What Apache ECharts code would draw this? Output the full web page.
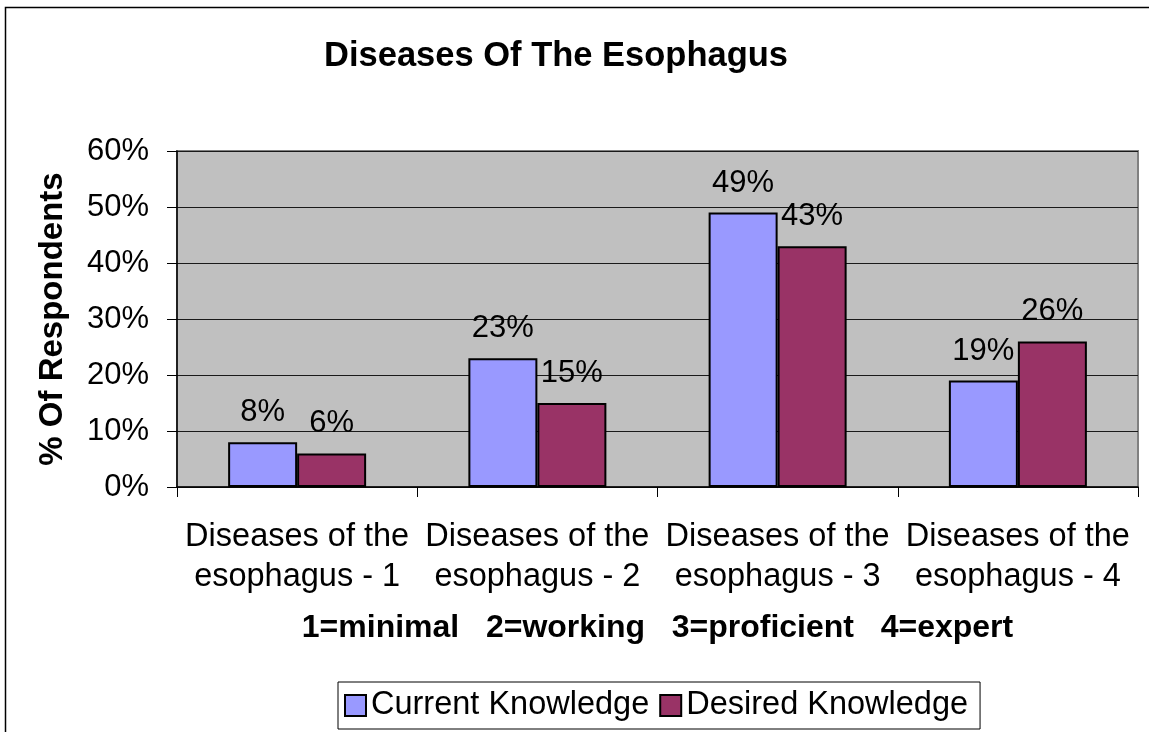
<!DOCTYPE html>
<html>
<head>
<meta charset="utf-8">
<script src="https://cdn.jsdelivr.net/npm/echarts@6/dist/echarts.min.js"></script>
<style>
  html, body { margin: 0; padding: 0; background: #fff; }
  #main { width: 1149px; height: 732px; }
</style>
</head>
<body>
<div id="main"></div>
<script>
// data (percent of respondents)
var categories = [
  'Diseases of the\nesophagus - 1',
  'Diseases of the\nesophagus - 2',
  'Diseases of the\nesophagus - 3',
  'Diseases of the\nesophagus - 4'
];
var currentKnowledge = [8, 23, 49, 19];
var desiredKnowledge = [6, 15, 43, 26];
var seriesNames = ['Current Knowledge', 'Desired Knowledge'];
var scaleNote = '1=minimal   2=working   3=proficient   4=expert';

var font = "'Liberation Sans', Arial, sans-serif";
var myChart = echarts.init(document.getElementById('main'));

var barLabel = {
  show: true,
  position: 'top',
  distance: 14,
  fontFamily: font,
  fontSize: 31,
  color: '#000',
  formatter: '{c}%'
};

var option = {
  backgroundColor: '#fff',
  animation: false,
  textStyle: { fontFamily: font },
  title: {
    text: 'Diseases Of The Esophagus',
    left: 551,
    textAlign: 'center',
    top: 34,
    textStyle: { fontFamily: font, fontSize: 34.5, fontWeight: 'bold', color: '#000' }
  },
  graphic: [{
    type: 'rect',
    shape: { x: 5.5, y: 7.5, width: 1300, height: 900 },
    style: { fill: 'none', stroke: '#000', lineWidth: 1.5 },
    silent: true
  }],
  legend: {
    data: seriesNames,
    left: 338,
    top: 682,
    padding: [7, 12, 7, 6],
    itemGap: 10,
    itemWidth: 21,
    itemHeight: 21,
    icon: 'rect',
    borderColor: '#000',
    borderWidth: 1,
    backgroundColor: '#fff',
    textStyle: { fontFamily: font, fontSize: 32.5, color: '#000' }
  },
  grid: {
    left: 177,
    right: 11,
    top: 151,
    bottom: 245,
    show: true,
    backgroundColor: '#C0C0C0',
    borderColor: '#808080',
    borderWidth: 2
  },
  xAxis: {
    type: 'category',
    data: categories,
    name: scaleNote,
    nameLocation: 'middle',
    nameGap: 125,
    nameTextStyle: { fontFamily: font, fontSize: 32, fontWeight: 'bold', color: '#000' },
    axisLine: { lineStyle: { color: '#000', width: 1.5 } },
    axisTick: { show: true, length: 10, interval: 0, lineStyle: { color: '#000' } },
    axisLabel: {
      interval: 0,
      margin: 30,
      fontFamily: font,
      fontSize: 32.5,
      lineHeight: 40,
      color: '#000'
    },
    splitLine: { show: false }
  },
  yAxis: {
    type: 'value',
    min: 0,
    max: 60,
    interval: 10,
    name: '% Of Respondents',
    nameLocation: 'middle',
    nameGap: 108,
    nameTextStyle: { fontFamily: font, fontSize: 33, fontWeight: 'bold', color: '#000' },
    axisLine: { show: true, lineStyle: { color: '#000', width: 1.5 } },
    axisTick: { show: true, length: 10, lineStyle: { color: '#000' } },
    axisLabel: {
      margin: 28,
      fontFamily: font,
      fontSize: 31,
      color: '#000',
      formatter: '{value}%'
    },
    splitLine: { show: true, lineStyle: { color: '#1a1a1a', width: 1.2 } }
  },
  series: [
    {
      name: seriesNames[0],
      type: 'bar',
      data: currentKnowledge,
      barWidth: 69,
      barGap: '0%',
      itemStyle: { color: '#9999FF', borderColor: '#000', borderWidth: 2 },
      label: barLabel
    },
    {
      name: seriesNames[1],
      type: 'bar',
      data: desiredKnowledge,
      barWidth: 69,
      barGap: '0%',
      itemStyle: { color: '#993366', borderColor: '#000', borderWidth: 2 },
      label: barLabel
    }
  ]
};

myChart.setOption(option);
</script>
</body>
</html>
